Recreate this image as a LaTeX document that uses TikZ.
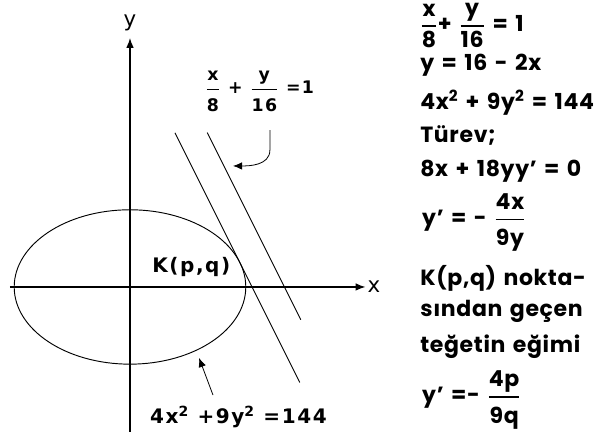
\documentclass[tikz,border=0pt]{standalone}
\usepackage{amsmath}
\usepackage{fontspec}
\setmainfont{Poppins}[LetterSpace=3,WordSpace=1.4]
\newfontfamily\plotfont{DejaVu Sans}[LetterSpace=8]
\usetikzlibrary{arrows.meta,positioning}
\tikzset{
  axis/.style={-{Latex[length=2.6mm,width=2mm]},line width=0.9pt},
  curve/.style={line width=0.7pt},
  pointer/.style={-{Latex[length=2.4mm,width=2mm]},line width=0.6pt},
  axislbl/.style={font=\plotfont\fontsize{16}{18}\selectfont,inner sep=0pt},
  plotlbl/.style={font=\plotfont\fontsize{15}{18}\selectfont\bfseries,inner sep=0pt},
  steplbl/.style={font=\fontsize{16.5}{20}\selectfont\bfseries,inner sep=0pt,anchor=base west},
  fraclbl/.style={steplbl,anchor=west}
}
\newcommand{\fr}[2]{$\genfrac{}{}{1pt}{0}{\mbox{\rule[-0.25em]{0pt}{0.25em}#1}}{\mbox{\rule{0pt}{0.98em}#2}}$}
\newcommand{\frtight}[2]{$\genfrac{}{}{1pt}{0}{\mbox{#1}}{\mbox{\rule{0pt}{0.75em}#2}}$}

\begin{document}
\begin{tikzpicture}[x=14.475pt,y=14.475pt]
  \useasboundingbox (-6.736,-7.772) rectangle (24.51,14.87);
  % Axes
  \coordinate (xs) at (-6.22,0);
  \coordinate (xe) at (12.2,0);
  \coordinate (ys) at (0,-7.51);
  \coordinate (ye) at (0,12.9);
  \draw[axis] (xs) -- (xe);
  \draw[axis] (ys) -- (ye);
  \node[axislbl,anchor=west] (xlbl) at (12.3,0) {x};
  \node[axislbl,anchor=south] (ylbl) at (0,13.25) {y};
  % Ellipse and the two lines of slope -2
  \draw[curve] (0,0) ellipse [x radius=6,y radius=4];
  \draw[curve] (2.33,7.99) -- (8.8,-4.95);
  \draw[curve] (4,8) -- (8.85,-1.7);
  % Labels on the plot
  \node[plotlbl,font=\plotfont\fontsize{13}{15}\selectfont\bfseries,anchor=west] (tanlbl) at (3.89,10.15) {\fr{x}{8} + \fr{y}{16} =1};
  \node[plotlbl,anchor=base west] (klbl) at (1.14,0.73) {K(p,q)};
  \node[plotlbl,anchor=base] (elllbl) at (5.62,-7.05) {4x\textsuperscript{2} +9y\textsuperscript{2} =144};
  \coordinate (tantip) at (5.34,6.27);
  \coordinate (elltip) at (3.58,-3.68);
  \draw[pointer] (7.25,8.13) -- (7.25,7.1) to[out=-90,in=0] (tantip);
  \draw[pointer] (4.3,-5.6) -- (elltip);
  % Steps on the right
  \node[fraclbl] (s1) at (15.03,13.55) {\frtight{x}{8}+ \frtight{y}{16} = 1};
  \node[steplbl] (s2) at (15.03,11.24) {y = 16 - 2x};
  \node[steplbl] (s3) at (15.03,9.17) {4x\textsuperscript{2} + 9y\textsuperscript{2} = 144};
  \node[steplbl] (s4) at (15.03,7.51) {Türev;};
  \node[steplbl] (s5) at (15.03,5.70) {8x + 18yy' = 0};
  \node[fraclbl] (s6) at (15.13,3.35) {y' = - \fr{4x}{9y}};
  \node[steplbl] (s7) at (15.03,0.10) {K(p,q) nokta-};
  \node[steplbl] (s8) at (15.03,-1.55) {sından geçen};
  \node[steplbl] (s9) at (15.03,-3.37) {teğetin eğimi};
  \node[fraclbl] (s10) at (15.13,-5.85) {y' =- \fr{4p}{9q}};
\end{tikzpicture}
\end{document}
